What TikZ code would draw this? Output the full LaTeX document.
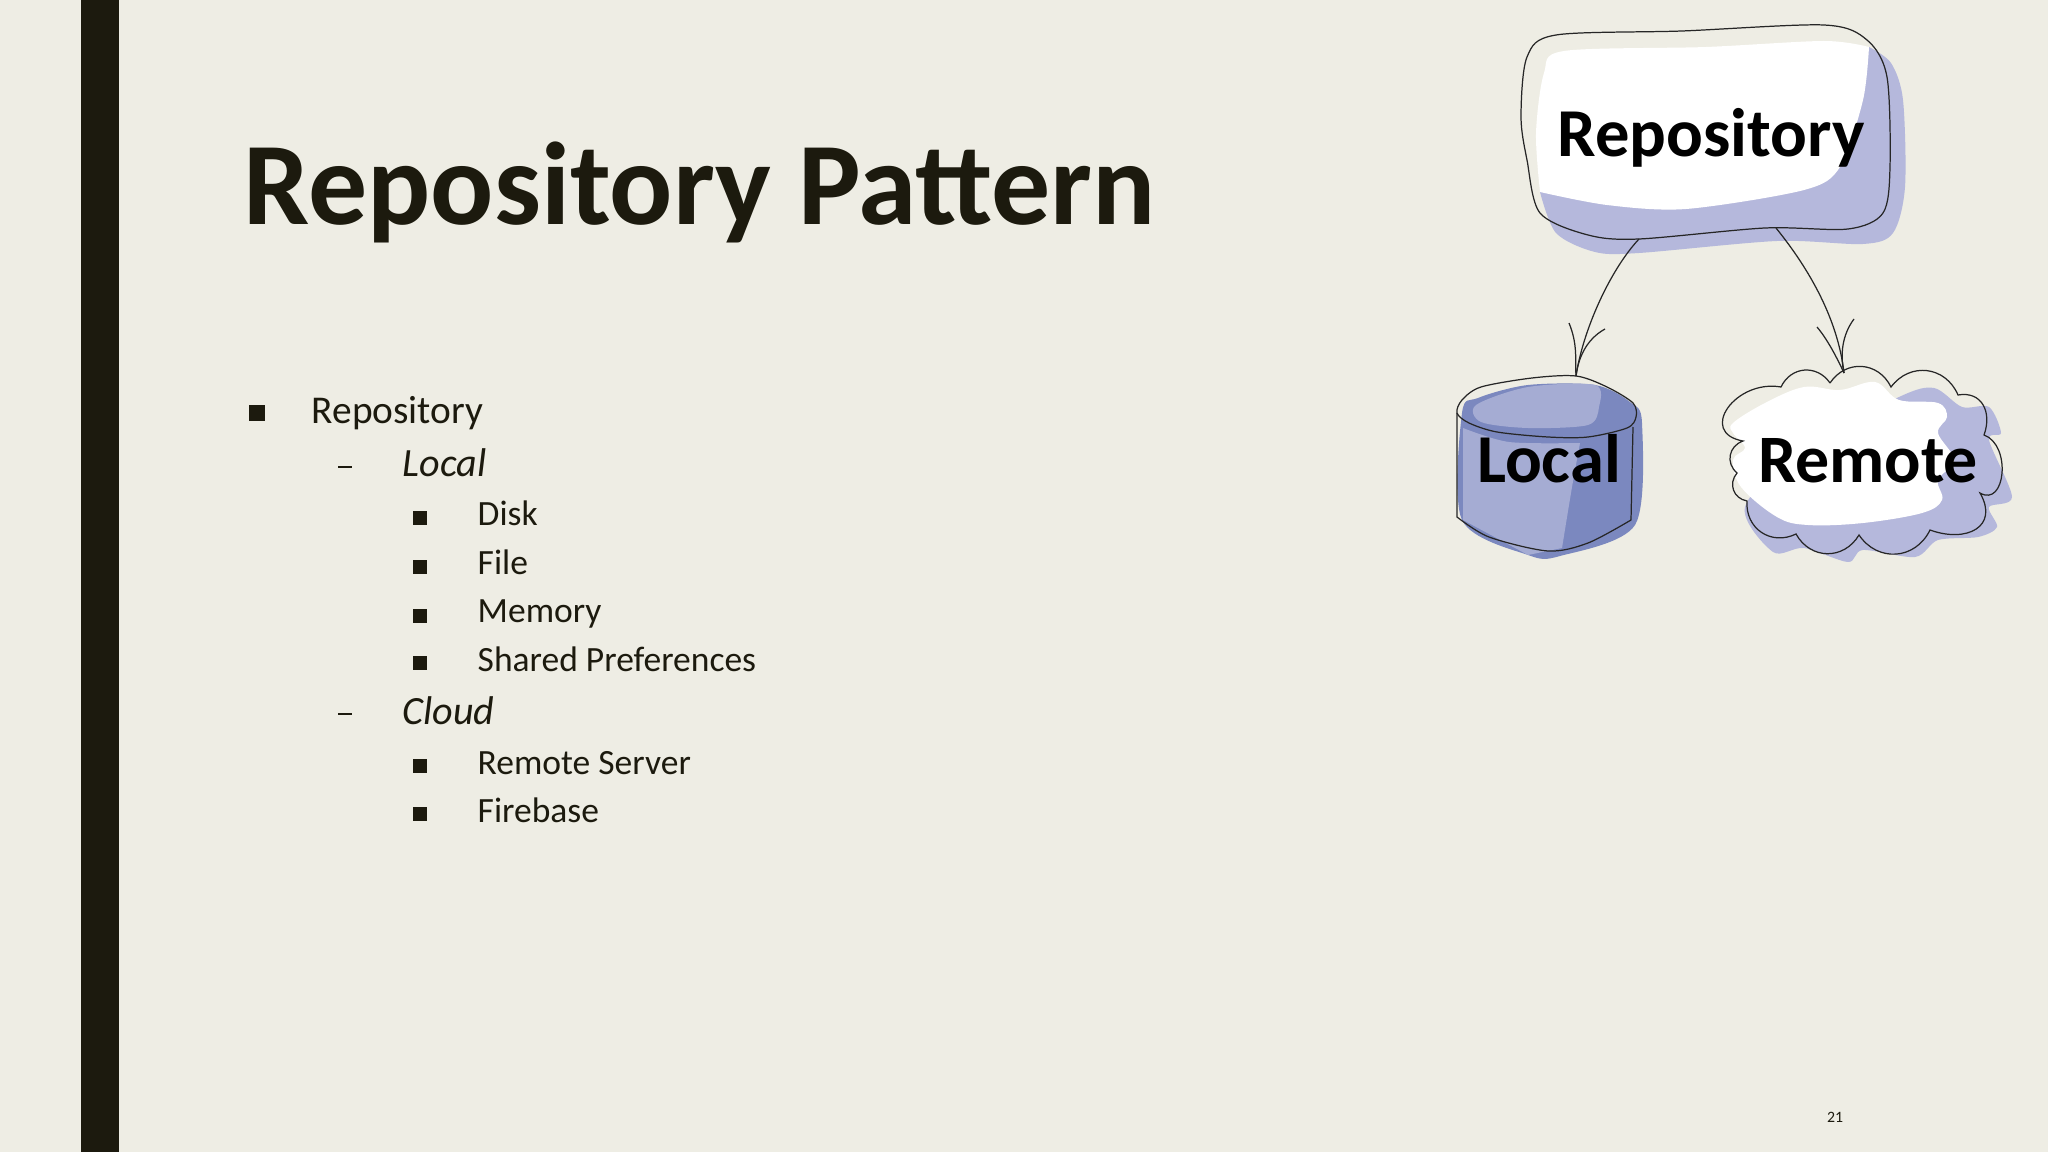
\documentclass[tikz,border=0pt]{standalone}
\usepackage{fontspec}
\setmainfont{Carlito}
\usepackage{tikz}
\usetikzlibrary{calc}
\definecolor{paper}{HTML}{EEEDE4}
\definecolor{ink}{HTML}{1C1A0E}
\definecolor{lilac}{HTML}{B5B8DC}
\definecolor{bodylight}{HTML}{A5ACD3}
\definecolor{bodydark}{HTML}{7B88BF}
\tikzset{
  sketch/.style={draw=black!85,line width=0.35pt},
  bump/.style={bend right=60,looseness=1.2},
  titletext/.style={anchor=base west,text=ink,inner sep=0pt,font=\fontsize{33.5}{34}\selectfont\bfseries},
  itemone/.style={anchor=base west,text=ink,inner sep=0pt,font=\fontsize{11.2}{12}\selectfont},
  itemtwo/.style={anchor=base west,text=ink,inner sep=0pt,font=\fontsize{11.4}{12}\selectfont\itshape},
  itemthree/.style={anchor=base west,text=ink,inner sep=0pt,font=\fontsize{10.1}{11}\selectfont},
  squarebullet/.style={fill=ink,inner sep=0pt,minimum size=#1},
  sketchlabel/.style={anchor=base,text=black,inner sep=0pt,font=\fontsize{#1}{#1}\selectfont\bfseries},
}
\begin{document}
\begin{tikzpicture}[x=0.01cm,y=-0.01cm]
    \fill[paper] (0,0) rectangle (2048,1152);
    \fill[ink] (81,0) rectangle (119,1152);

    % slide text
    \node[titletext] (title) at (243,225) {Repository Pattern};
    \node[squarebullet=4.6pt] (bulletrepo) at (257,413) {};
    \node[itemone] (itemrepo) at (311,424) {Repository};
    \draw[ink,line width=0.5pt] (338,467) -- (352,467);
    \node[itemtwo] (itemlocal) at (402,477) {Local};
    \draw[ink,line width=0.5pt] (338,714) -- (352,714);
    \node[itemtwo] (itemcloud) at (402,724) {Cloud};
    \foreach \nm/\by/\ty/\txt in {disk/518/526/Disk,file/567/574/File,memory/616/623/Memory,
        shared/663/672/Shared Preferences,server/766/774/Remote Server,firebase/814/822/Firebase}
    {
        \node[squarebullet=4.2pt] (bullet\nm) at (420,\by) {};
        \node[itemthree] (item\nm) at (477,\ty) {\txt};
    }
    \node[anchor=base,text=ink,inner sep=0pt,font=\fontsize{4.5}{5}\selectfont] (pagenum) at (1835,1122) {21};

    % repository box
    \fill[lilac] plot[smooth] coordinates {(1869,47) (1891,63) (1903,100) (1905,187) (1893,233) (1863,244)
        (1777,241) (1639,253) (1595,252) (1556,233) (1540,192)} -- cycle;
    \fill[white] plot[smooth] coordinates {(1540,192) (1536,133) (1544,73) (1564,51) (1706,47) (1824,41) (1869,47)}
        -- plot[smooth] coordinates {(1869,47) (1863,100) (1840,167) (1804,190) (1686,209) (1607,205) (1540,192)} -- cycle;
    \draw[sketch] plot[smooth cycle] coordinates {(1556,35) (1682,31) (1824,25) (1867,40) (1887,77) (1890,167)
        (1883,213) (1848,229) (1765,228) (1639,239) (1588,235) (1540,213) (1527,160) (1521,117) (1527,57)};
    \node[sketchlabel=19.5] (repo) at (1711,157) {Repository};
    \coordinate (repoleft) at (1639,239);
    \coordinate (reporight) at (1776,228);

    % local store
    \fill[bodydark] plot[smooth cycle] coordinates {(1462,413) (1478,398) (1528,385) (1595,385) (1630,402)
        (1642,423) (1635,525) (1560,556) (1528,555) (1462,520)};
    \fill[bodylight] plot[smooth cycle] coordinates {(1476,405) (1528,387) (1595,385) (1599,407) (1588,425) (1528,428) (1481,422)};
    \fill[bodylight] plot[smooth] coordinates {(1463,428) (1509,442) (1580,443)}
        -- plot[smooth] coordinates {(1580,443) (1572,487) (1562,548)} -- (1528,555) -- (1463,520) -- cycle;
    \draw[sketch] plot[smooth cycle] coordinates {(1457,413) (1462,400) (1481,387) (1532,378) (1576,376) (1607,387)
        (1633,403) (1636,417) (1627,428) (1588,437) (1548,437) (1497,432) (1469,423)};
    \draw[sketch] (1457,413) -- (1457,517) -- plot[smooth] coordinates {(1457,517) (1489,537) (1548,551) (1588,543) (1631,520)} -- (1633,427);
    \node[sketchlabel=19.5] (local) at (1549,482) {Local};
    \coordinate (localtip) at (1576,376);

    % remote cloud
    \fill[lilac] plot[smooth cycle,tension=0.5] coordinates {(1899,397) (1934,388) (1962,407) (1989,407) (2001,433) (1989,440)
        (2012,497) (1989,507) (1997,527) (1978,537) (1938,540) (1915,557) (1863,550) (1848,562) (1804,548) (1773,552) (1745,507) (1800,450)};
    \fill[white] plot[smooth cycle,tension=0.6] coordinates {(1733,423) (1765,403) (1804,387) (1840,390) (1875,382) (1899,400)
        (1938,403) (1947,417) (1938,433) (1954,460) (1938,480) (1942,500) (1922,513) (1863,523) (1808,525) (1777,517)
        (1741,487) (1733,460) (1745,448) (1733,433)};
    \draw[sketch] (1830,383) to[bump] (1781,387) to[out=170,in=170,looseness=1.8] (1743,441) to[bump] (1737,473) to[bump] (1747,501)
        to[bump] (1796,534) to[bump] (1859,535) to[bump] (1930,530) to[out=-20,in=-60,looseness=1.6] (1980,493)
        to[out=-30,in=-20,looseness=1.3] (1984,435) to[out=70,in=10,looseness=1.3] (1958,395) to[bump] (1891,387) to[bump] (1830,383);
    \node[sketchlabel=19.3] (remote) at (1868,482) {Remote};
    \coordinate (remotetip) at (1844,373);

    % connectors
    \draw[sketch] (repoleft) .. controls (1610,270) and (1583,330) .. (localtip);
    \draw[sketch] (reporight) .. controls (1810,270) and (1838,320) .. (remotetip);
    \coordinate (localbarba) at (1569,323);
    \coordinate (localbarbb) at (1605,329);
    \coordinate (remotebarba) at (1817,327);
    \coordinate (remotebarbb) at (1854,319);
    \draw[sketch] (localbarba) .. controls (1578,345) and (1575,360) .. (localtip);
    \draw[sketch] (localbarbb) .. controls (1585,340) and (1578,360) .. (localtip);
    \draw[sketch] (remotebarba) .. controls (1828,340) and (1838,360) .. (remotetip);
    \draw[sketch] (remotebarbb) .. controls (1842,335) and (1840,355) .. (remotetip);
\end{tikzpicture}
\end{document}
